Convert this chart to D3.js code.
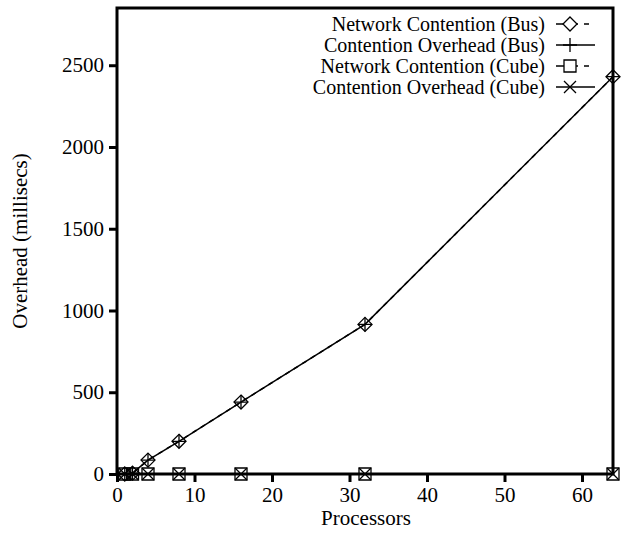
<!DOCTYPE html>
<html>
<head>
<meta charset="utf-8">
<script src="https://d3js.org/d3.v7.min.js"></script>
<style>
  body { margin: 0; background: #fff; }
  text { font-family: "Liberation Serif", "Times New Roman", serif; fill: #000; }
</style>
</head>
<body>
<div id="chart"></div>
<script>
// data
const processors = [1, 2, 4, 8, 16, 32, 64];
const netBus = [0, 5, 85, 200, 440, 915, 2430];
const ovhBus = [0, 5, 85, 200, 440, 915, 2430];
const netCube = [0, 0, 0, 0, 0, 0, 0];
const ovhCube = [0, 0, 0, 0, 0, 0, 0];
const seriesNames = ["Network Contention (Bus)", "Contention Overhead (Bus)",
                     "Network Contention (Cube)", "Contention Overhead (Cube)"];
const xTicks = [0, 10, 20, 30, 40, 50, 60];
const yTicks = [0, 500, 1000, 1500, 2000, 2500];

const outerWidth = 621, outerHeight = 534;
const margin = { top: 8, right: 8, bottom: 60, left: 117 };
const width = outerWidth - margin.left - margin.right;
const height = outerHeight - margin.top - margin.bottom;

const x = d3.scaleLinear().domain([0, 64]).range([0, width]);
const y = d3.scaleLinear().domain([0, 2850]).range([height, 0]);

const svg = d3.select("#chart").append("svg")
  .attr("width", outerWidth).attr("height", outerHeight);
const g = svg.append("g").attr("transform", `translate(${margin.left},${margin.top})`);

// marker shapes
const markers = {
  diamond: (s, r) => s.append("path").attr("d", `M0,${-r}L${r},0L0,${r}L${-r},0Z`),
  plus: (s, r) => s.append("path").attr("d", `M${-r},0H${r}M0,${-r}V${r}`),
  square: (s, r) => s.append("path").attr("d", `M${-r},${-r}H${r}V${r}H${-r}Z`),
  cross: (s, r) => s.append("path").attr("d", `M${-r},${-r}L${r},${r}M${r},${-r}L${-r},${r}`)
};

const series = [
  { name: seriesNames[0], values: netBus, marker: "diamond", dash: "5,5", r: 7 },
  { name: seriesNames[1], values: ovhBus, marker: "plus", dash: null, r: 7 },
  { name: seriesNames[2], values: netCube, marker: "square", dash: "5,5", r: 6 },
  { name: seriesNames[3], values: ovhCube, marker: "cross", dash: null, r: 6 }
];

const line = d3.line().x(d => x(d[0])).y(d => y(d[1]));

series.forEach(s => {
  const pts = processors.map((p, i) => [p, s.values[i]]);
  g.append("path").datum(pts)
    .attr("d", line)
    .attr("fill", "none").attr("stroke", "#000").attr("stroke-width", 1.5)
    .attr("stroke-dasharray", s.dash);
  pts.forEach(p => {
    const m = g.append("g").attr("transform", `translate(${x(p[0])},${y(p[1])})`)
      .attr("fill", "none").attr("stroke", "#000").attr("stroke-width", 1.3);
    markers[s.marker](m, s.r);
  });
});

// axes
const xAxis = g.append("g").attr("transform", `translate(0,${height})`)
  .call(d3.axisBottom(x).tickValues(xTicks).tickFormat(d3.format("d")).tickSize(8).tickPadding(5));
const yAxis = g.append("g")
  .call(d3.axisLeft(y).tickValues(yTicks).tickFormat(d3.format("d")).tickSize(8).tickPadding(5));
[xAxis, yAxis].forEach(a => {
  a.select(".domain").remove();
  a.selectAll(".tick line").attr("stroke", "#000").attr("stroke-width", 3);
  a.selectAll(".tick text").style("font-family", "Liberation Serif").style("font-size", "21px");
});

// frame
g.append("rect").attr("width", width).attr("height", height)
  .attr("fill", "none").attr("stroke", "#000").attr("stroke-width", 3);

// axis labels
svg.append("text")
  .attr("x", margin.left + width / 2 + 1).attr("y", 525)
  .attr("text-anchor", "middle").style("font-size", "21px")
  .text("Processors");
svg.append("text")
  .attr("transform", `translate(27,${margin.top + height / 2}) rotate(-90)`)
  .attr("text-anchor", "middle").style("font-size", "21px")
  .text("Overhead (millisecs)");

// legend
const legend = svg.selectAll(".legend").data(series).enter().append("g")
  .attr("transform", (d, i) => `translate(0,${24 + i * 21})`);
legend.append("text")
  .attr("x", 545).attr("dy", "0.33em")
  .attr("text-anchor", "end").style("font-size", "20px")
  .text(d => d.name);
legend.append("line")
  .attr("x1", 556).attr("x2", 595)
  .attr("stroke", "#000").attr("stroke-width", 1.5)
  .attr("stroke-dasharray", d => d.dash ? "22,6,5,6" : null);
legend.each(function (d) {
  const m = d3.select(this).append("g").attr("transform", "translate(570,0)")
    .attr("fill", "#fff").attr("stroke", "#000").attr("stroke-width", 1.3);
  markers[d.marker](m, d.r);
});
</script>
</body>
</html>
